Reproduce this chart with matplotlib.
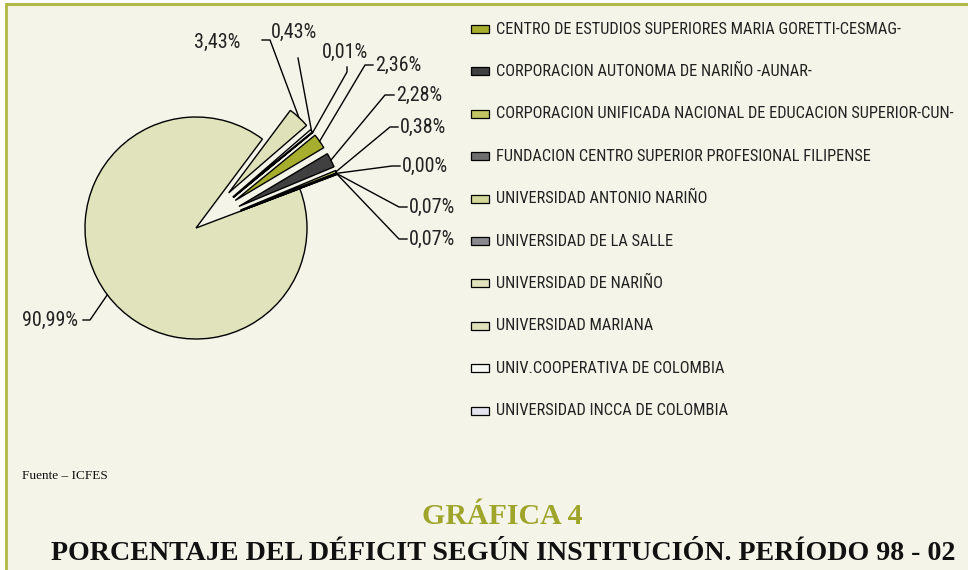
import matplotlib
matplotlib.use("Agg")
import matplotlib.pyplot as plt
from matplotlib.patches import Rectangle
from matplotlib import font_manager
import numpy as np

# ---------------- data ----------------
institutions = [
    "CENTRO DE ESTUDIOS SUPERIORES MARIA GORETTI-CESMAG-",
    "CORPORACION AUTONOMA DE NARIÑO -AUNAR-",
    "CORPORACION UNIFICADA NACIONAL DE EDUCACION SUPERIOR-CUN-",
    "FUNDACION CENTRO SUPERIOR PROFESIONAL FILIPENSE",
    "UNIVERSIDAD ANTONIO NARIÑO",
    "UNIVERSIDAD DE LA SALLE",
    "UNIVERSIDAD DE NARIÑO",
    "UNIVERSIDAD MARIANA",
    "UNIV.COOPERATIVA DE COLOMBIA",
    "UNIVERSIDAD INCCA DE COLOMBIA",
]
percentages = [2.36, 2.28, 0.38, 0.00, 0.07, 0.07, 90.99, 3.43, 0.43, 0.01]
pct_labels = ["2,36%", "2,28%", "0,38%", "0,00%", "0,07%", "0,07%",
              "90,99%", "3,43%", "0,43%", "0,01%"]
source_text = "Fuente – ICFES"
chart_number = "GRÁFICA 4"
chart_title = "PORCENTAJE DEL DÉFICIT SEGÚN INSTITUCIÓN. PERÍODO 98 - 02"

# ---------------- style ----------------
colors = ["#a7ae2e", "#404040", "#c0c462", "#6e6e6e", "#d3d79a",
          "#8a8a8e", "#e0e3bb", "#dfe2b8", "#f8f8f2", "#e2e3ec"]
bg = "#f4f5e8"
border = "#b2b845"

# find a condensed / narrow sans face if one is installed
narrow_family, narrow_stretch, narrow_scale = "Liberation Sans", "normal", 0.82
cands = []
for f in font_manager.fontManager.ttflist:
    nm = f.name
    st = str(f.stretch)
    is_narrow = ("Narrow" in nm or "Condensed" in nm or
                 st in ("condensed", "semi-condensed", "extra-condensed", "ultra-condensed"))
    if is_narrow and "Serif" not in nm and "Mono" not in nm and f.style == "normal":
        cands.append((nm, st))
if cands:
    pref = ["Liberation Sans Narrow", "Roboto Condensed", "Open Sans Condensed",
            "DejaVu Sans", "Noto Sans"]
    chosen = None
    for p in pref:
        for nm, st in cands:
            if nm == p:
                chosen = (nm, st)
                break
        if chosen:
            break
    if chosen is None:
        chosen = cands[0]
    narrow_family, narrow_stretch = chosen
    narrow_scale = 1.0
    if narrow_stretch not in ("condensed", "semi-condensed", "extra-condensed", "ultra-condensed"):
        narrow_stretch = "normal"
serif = "Liberation Serif"

W, H = 968, 570
fig = plt.figure(figsize=(W / 100, H / 100), dpi=100)
fig.patch.set_facecolor("white")
ax = fig.add_axes([0, 0, 1, 1])

def Y(py):
    return H - py

cx, cy = 196, Y(228)
r_big, r_small, expl = 111, 103, 48
big_idx = 6
explode = [0 if i == big_idx else expl for i in range(len(percentages))]

wedges, _ = ax.pie(percentages, colors=colors, startangle=39.3, counterclock=False,
                   explode=explode, radius=r_small, center=(cx, cy), frame=True,
                   normalize=True,
                   wedgeprops=dict(edgecolor="black", linewidth=1.0))
wedges[big_idx].set_radius(r_big)
for i, w in enumerate(wedges):
    w.set_zorder(3 if i != big_idx else 2)

# background + border
ax.set_xlim(0, W)
ax.set_ylim(0, H)
ax.set_aspect("equal")
ax.axis("off")
ax.add_patch(Rectangle((5, 0), W - 5, H - 3, facecolor=bg, edgecolor="none", zorder=0))
ax.plot([5, W], [Y(3.5), Y(3.5)], color=border, lw=2.2, zorder=1, solid_capstyle="butt")
ax.plot([5.5, 5.5], [0, Y(3)], color=border, lw=2.0, zorder=1, solid_capstyle="butt")

def anchor(i):
    w = wedges[i]
    th = np.deg2rad(0.5 * (w.theta1 + w.theta2))
    x0, y0 = w.center
    return x0 + w.r * np.cos(th), y0 + w.r * np.sin(th)

label_font = dict(family=[narrow_family, "DejaVu Sans"], fontstretch=narrow_stretch)

layout = {
    7: (240, 42, "right", [(262, 40), (270, 40)]),
    8: (271, 32, "left", [(298, 58)]),
    9: (322, 52, "left", [(347, 67), (347, 72)]),
    0: (375, 65, "left", [(373, 65), (365, 65)]),
    1: (396, 95, "left", [(394, 95), (385, 95)]),
    2: (400, 127, "left", [(398, 127), (390, 127)]),
    3: (402, 166, "left", [(400, 166), (392, 166)]),
    4: (409, 207, "left", [(407, 207), (399, 207)]),
    5: (409, 239, "left", [(407, 239), (399, 239)]),
    6: (78, 320, "right", [(83, 320), (90, 320)]),
}
for i, (tx, ty, ha, pts) in layout.items():
    ax.text(tx, Y(ty), pct_labels[i], ha=ha, va="center", fontsize=14.5 * narrow_scale,
            color="#222222", zorder=5, **label_font)
    ax_, ay_ = anchor(i)
    xs = [p[0] for p in pts] + [ax_]
    ys = [Y(p[1]) for p in pts] + [ay_]
    ax.plot(xs, ys, color="black", lw=1.0, zorder=4)

# legend
row_y0, row_dy = 29, 42.4
for k, (name, col) in enumerate(zip(institutions, colors)):
    yy = Y(row_y0 + k * row_dy)
    ax.add_patch(Rectangle((471, yy - 4), 18, 8, facecolor=col,
                           edgecolor="black", lw=0.9, zorder=5))
    ax.text(496, yy, name, ha="left", va="center", fontsize=11.8 * narrow_scale,
            color="#222222", zorder=5, **label_font)

# footer
ax.text(22, Y(476), source_text, ha="left", va="center", fontsize=9.5,
        family=[serif, "DejaVu Serif"], color="#111111")
ax.text(502, Y(516), chart_number, ha="center", va="center", fontsize=21.5,
        fontweight="bold", family=[serif, "DejaVu Serif"], color="#9fa52a")
ax.text(503, Y(553), chart_title, ha="center", va="center", fontsize=20.2,
        fontweight="bold", family=[serif, "DejaVu Serif"], color="#111111")

fig.savefig("out.png", dpi=100, facecolor="white")
